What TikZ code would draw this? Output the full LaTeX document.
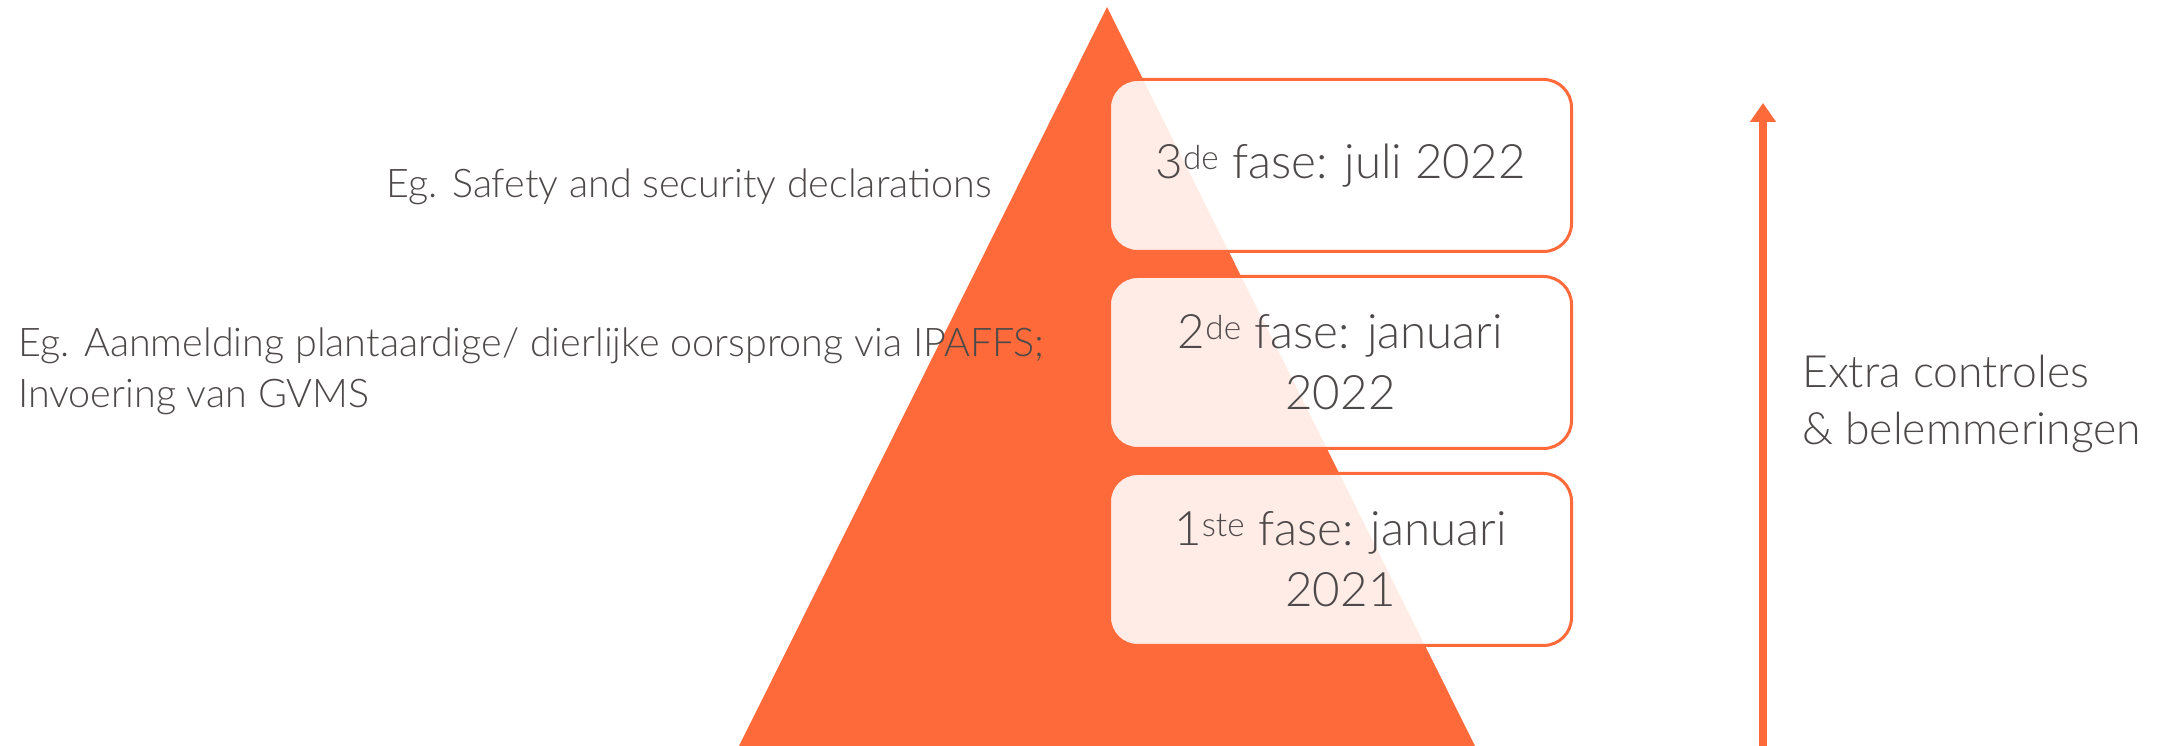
\documentclass[tikz,border=0pt]{standalone}
\usepackage{fontspec}
\IfFontExistsTF{Lato Light}{\setmainfont{Lato Light}}{%
  \IfFontExistsTF{FiraSans-Light.otf}{\setmainfont{FiraSans-Light.otf}}{\setmainfont{Fira Sans}}}
\usetikzlibrary{positioning}
\usetikzlibrary{arrows.meta}
\definecolor{fase orange}{RGB}{255,106,58}
\definecolor{fase text}{RGB}{78,73,73}
\tikzstyle{faseBox} = [rectangle, rounded corners=28pt, draw=fase orange, line width=3pt, fill=white, fill opacity=0.88, text opacity=1, minimum width=462pt, minimum height=172pt, align=center, text=fase text, font=\fontsize{47.5}{61}\selectfont]
\tikzstyle{noteText} = [inner sep=0pt, align=left, text=fase text, font=\fontsize{39.5}{51}\selectfont]

\begin{document}
\begin{tikzpicture}[x=1pt, y=1pt, node distance=22pt]
\useasboundingbox (0,0) rectangle (2160,746);

% Pyramid
\fill[fase orange] (739,0) -- (1107,739) -- (1475,0) -- cycle;

% Define nodes
\node[faseBox]                  (f3) at (1340.5,580.5) {3\textsuperscript{de} fase: juli 2022};
\node[faseBox, below = of f3]   (f2) {2\textsuperscript{de} fase: januari\\2022};
\node[faseBox, below = of f2]   (f1) {1\textsuperscript{ste} fase: januari\\2021};

\node[noteText, anchor=base east] (s3) at (992,548) {Eg. Safety and security declarations};
\node[noteText, anchor=base west] (s2) at (18,338) {Eg. Aanmelding plantaardige/ dierlijke oorsprong via IPAFFS;\\Invoering van GVMS};

\coordinate (low) at (1763,0);
\coordinate (high) at (1763,643);
\node[noteText, font=\fontsize{44.5}{57}\selectfont, anchor=base west] (extra) at (1802,301) {Extra controles\\\& belemmeringen};

% Edges
\draw[fase orange, line width=8pt, -{Triangle[width=25pt, length=19pt]}] (low) -- (high);
\end{tikzpicture}
\end{document}
